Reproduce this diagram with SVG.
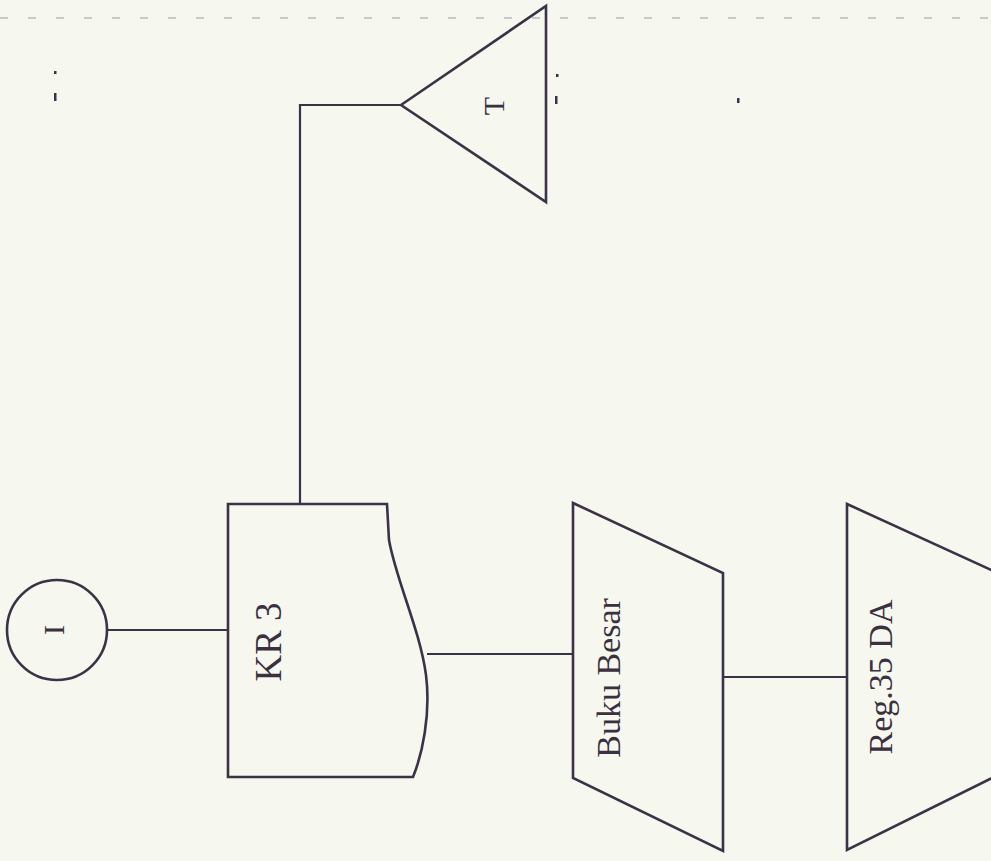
<svg xmlns="http://www.w3.org/2000/svg" width="991" height="861" viewBox="0 0 991 861">
<style>
.shape{fill:none;stroke:#3b3245;stroke-width:2.6;stroke-linejoin:miter}
.conn{fill:none;stroke:#3b3245;stroke-width:2.2}
.lbl{font-family:"Liberation Serif","Times New Roman",serif;fill:#3a3040;text-anchor:middle;dominant-baseline:central}
.speck{fill:#3b3245}
</style>
<rect x="0" y="0" width="991" height="861" fill="#f6f7ee"/>
<line x1="0" y1="18" x2="991" y2="18" stroke="#c9c9c9" stroke-width="2" stroke-dasharray="8 20"/>
<g id="specks">
<rect class="speck" x="54" y="71" width="2.5" height="3"/>
<rect class="speck" x="54" y="93" width="2.5" height="8"/>
<rect class="speck" x="556" y="74" width="2.5" height="3"/>
<rect class="speck" x="555" y="96" width="2.5" height="8"/>
<rect class="speck" x="737" y="98" width="2.5" height="5"/>
</g>
<g id="connectors">
<polyline class="conn" points="300,503 300,105 401,105"/>
<line class="conn" x1="107" y1="630" x2="228" y2="630"/>
<line class="conn" x1="427" y1="654" x2="573" y2="654"/>
<line class="conn" x1="723" y1="677" x2="847" y2="677"/>
</g>
<g id="node-I">
<circle class="shape" cx="57" cy="630" r="50"/>
<text class="lbl" font-size="30" transform="translate(53,630) rotate(-90)">I</text>
</g>
<g id="node-T">
<polygon class="shape" points="401,105 546,6 546,202"/>
<text class="lbl" font-size="30" transform="translate(493,106) rotate(-90)">T</text>
</g>
<g id="node-KR3">
<path class="shape" d="M228,504 L387,504 L389,540 C396,580 420,630 426,675 C431,715 422,755 413,777 L228,777 Z"/>
<text class="lbl" font-size="37" transform="translate(268,642) rotate(-90)">KR 3</text>
</g>
<g id="node-BukuBesar">
<polygon class="shape" points="573,503 723,573 723,851 573,778"/>
<text class="lbl" font-size="34" transform="translate(608,678) rotate(-90)">Buku Besar</text>
</g>
<g id="node-Reg35DA">
<polygon class="shape" points="847,504 1000,574 1000,774 847,850"/>
<text class="lbl" font-size="34" transform="translate(880,677) rotate(-90)">Reg.35 DA</text>
</g>
</svg>
